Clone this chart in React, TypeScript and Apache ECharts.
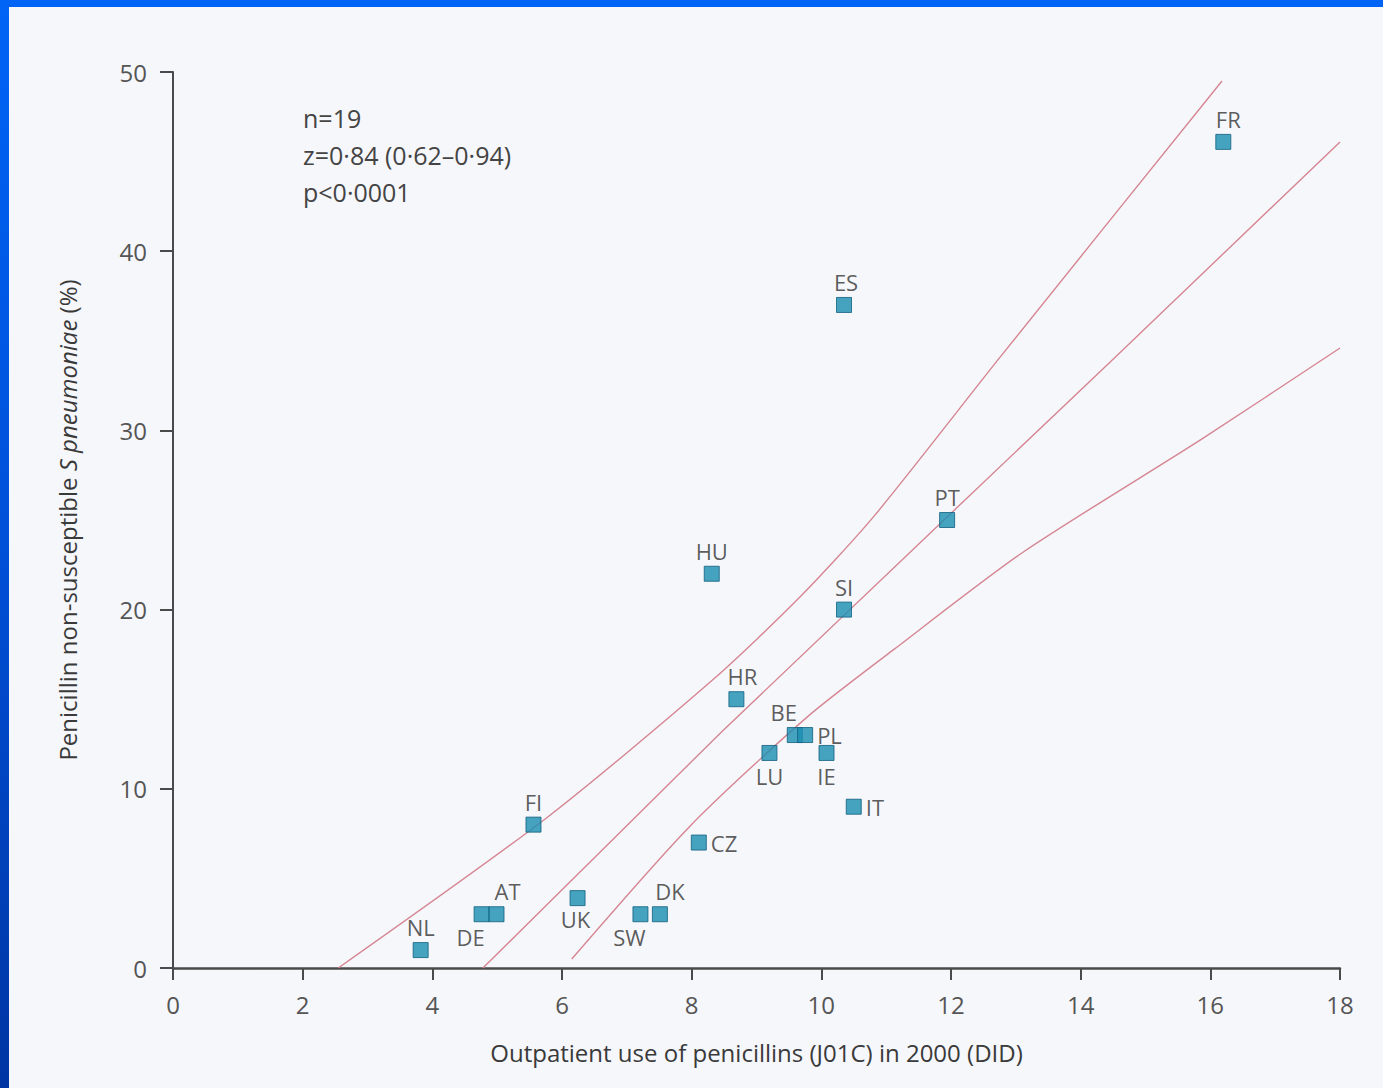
import React, { useEffect, useRef } from "react";
import * as echarts from "echarts";

// ---- data ----
const countries = ["NL", "DE", "AT", "UK", "SW", "DK", "FI", "CZ", "HU", "HR", "LU", "BE", "PL", "IE", "IT", "SI", "ES", "PT", "FR"];
const useDID = [3.82, 4.76, 4.99, 6.24, 7.21, 7.51, 5.56, 8.11, 8.31, 8.69, 9.2, 9.59, 9.75, 10.08, 10.5, 10.35, 10.35, 11.94, 16.2];
const resistancePct = [1, 3, 3, 3.9, 3, 3, 8, 7, 22, 15, 12, 13, 13, 12, 9, 20, 37, 25, 46.1];

const upperBand = [[2.55, 0], [5.77, 8.4], [8.33, 16.1], [9.67, 20.7], [10.81, 25.2], [12.76, 34.1], [16.18, 49.5]];
const fitLine = [[4.78, 0], [8.44, 13.1], [11.92, 25.1], [14.48, 33.9], [18, 46.1]];
const lowerBand = [[6.15, 0.5], [7.97, 7.9], [9.78, 14.0], [11.11, 17.75], [13.11, 23.2], [15.86, 29.5], [18, 34.6]];

const xTicks = [0, 2, 4, 6, 8, 10, 12, 14, 16, 18];
const yTicks = [0, 10, 20, 30, 40, 50];
const statsLines = ["n=19", "z=0·84 (0·62–0·94)", "p<0·0001"];

const xTitle = "Outpatient use of penicillins (J01C) in 2000 (DID)";

// label placement (layout only)
const labelPlace: Record<string, { position: string; offset?: number[] }> = {
  NL: { position: "top" },
  DE: { position: "bottom", offset: [-11, 0] },
  AT: { position: "top", offset: [11, 0] },
  UK: { position: "bottom", offset: [-2, -2] },
  SW: { position: "bottom", offset: [-11, 0] },
  DK: { position: "top", offset: [10, 0] },
  FI: { position: "top" },
  CZ: { position: "right" },
  HU: { position: "top" },
  HR: { position: "top", offset: [6, 0] },
  LU: { position: "bottom" },
  BE: { position: "top", offset: [-11, 0] },
  PL: { position: "right" },
  IE: { position: "bottom" },
  IT: { position: "right" },
  SI: { position: "top" },
  ES: { position: "top", offset: [2, 0] },
  PT: { position: "top" },
  FR: { position: "top", offset: [5, 0] },
};

const FONT = "'Open Sans', 'Noto Sans', sans-serif";

export default function App() {
  const ref = useRef<HTMLDivElement>(null);

  useEffect(() => {
    if (!ref.current) return;
    const chart = echarts.init(ref.current, null, { renderer: "svg" });

    const points = countries.map((c, i) => {
      const p = labelPlace[c] || { position: "top" };
      return {
        name: c,
        value: [useDID[i], resistancePct[i]],
        label: { position: p.position as any, offset: p.offset || [0, 0] },
      };
    });

    const lineStyle = { color: "#d68592", width: 1.4 };

    chart.setOption({
      animation: false,
      backgroundColor: "#f6f7fb",
      grid: { left: 164, right: 43, top: 65, bottom: 120, containLabel: false },
      xAxis: {
        type: "value",
        min: xTicks[0],
        max: xTicks[xTicks.length - 1],
        interval: 2,
        name: xTitle,
        nameLocation: "middle",
        nameGap: 72,
        nameTextStyle: { fontFamily: FONT, fontSize: 24, color: "#3a3a3a" },
        axisLine: { show: true, lineStyle: { color: "#4a4a4a", width: 2.5 } },
        axisTick: { show: true, inside: false, length: 12, lineStyle: { color: "#4a4a4a", width: 2 } },
        axisLabel: { margin: 24, fontFamily: FONT, fontSize: 24, color: "#555" },
        splitLine: { show: false },
      },
      yAxis: {
        type: "value",
        min: yTicks[0],
        max: yTicks[yTicks.length - 1],
        interval: 10,
        name: "{a|Penicillin non-susceptible }{b|S pneumoniae}{a| (%)}",
        nameLocation: "middle",
        nameGap: 94,
        nameTextStyle: {
          fontFamily: FONT,
          fontSize: 24,
          color: "#3a3a3a",
          rich: {
            a: { fontFamily: FONT, fontSize: 24, color: "#3a3a3a" },
            b: { fontFamily: FONT, fontSize: 24, color: "#3a3a3a", fontStyle: "italic" },
          },
        },
        axisLine: { show: true, lineStyle: { color: "#4a4a4a", width: 2 } },
        axisTick: { show: true, inside: false, length: 13, lineStyle: { color: "#4a4a4a", width: 2 } },
        axisLabel: { margin: 26, fontFamily: FONT, fontSize: 24, color: "#555" },
        splitLine: { show: false },
      },
      graphic: [
        {
          type: "text",
          left: 294,
          top: 92,
          style: {
            text: statsLines.join("\n"),
            font: `25px ${FONT}`,
            fill: "#444",
            lineHeight: 37,
          },
        },
      ],
      series: [
        { type: "line", data: upperBand, showSymbol: false, symbol: "none", smooth: 0.25, lineStyle, z: 1, silent: true },
        { type: "line", data: fitLine, showSymbol: false, symbol: "none", lineStyle, z: 1, silent: true },
        { type: "line", data: lowerBand, showSymbol: false, symbol: "none", smooth: 0.25, lineStyle, z: 1, silent: true },
        {
          type: "scatter",
          data: points,
          symbol: "rect",
          symbolSize: 15,
          z: 3,
          itemStyle: { color: "#1a8db2", borderColor: "#0f5f7e", borderWidth: 1 },
          label: {
            show: true,
            formatter: "{b}",
            distance: 4,
            fontFamily: FONT,
            fontSize: 22,
            color: "#333",
          },
        },
      ],
    });

    return () => chart.dispose();
  }, []);

  return (
    <div
      style={{
        position: "fixed",
        left: 0,
        top: 0,
        width: 1383,
        height: 1088,
        background: "linear-gradient(180deg, #0064f6 0%, #0050d8 50%, #0035a3 100%)",
      }}
    >
      <div
        ref={ref}
        style={{ position: "absolute", left: 9, top: 7, width: 1374, height: 1081 }}
      />
    </div>
  );
}
